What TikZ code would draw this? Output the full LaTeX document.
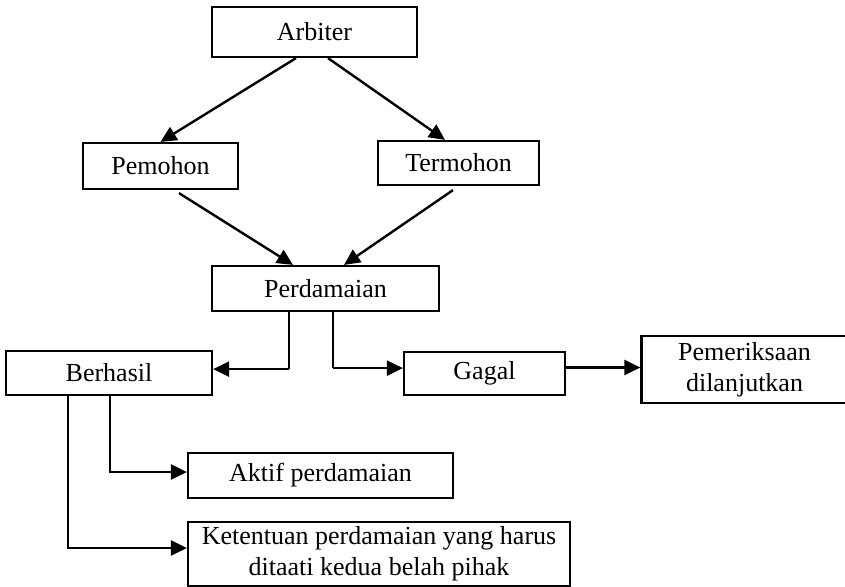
\documentclass[tikz,border=0pt]{standalone}
\usepackage{fontspec}
\setmainfont{Liberation Serif}
\usetikzlibrary{arrows.meta,calc}

\tikzset{
    box/.style={draw, line width=1.1pt, inner sep=0pt, align=center, font=\fontsize{13}{15.5}\selectfont},
    arr/.style={line width=1.2pt, -{Triangle[length=8pt,width=7.5pt]}},
    link/.style={line width=1.2pt}
}

\begin{document}
\begin{tikzpicture}[x=0.5pt,y=-0.5pt]

            \useasboundingbox (0,0) rectangle (845,586);

            \node[box, minimum width=102.5pt, minimum height=25pt] (arbiter) at (314.5,32) {Arbiter};
            \node[box, minimum width=77.5pt, minimum height=23pt] (pemohon) at (160.5,166) {Pemohon};
            \node[box, minimum width=80.5pt, minimum height=22pt] (termohon) at (458.5,163) {Termohon};
            \node[box, minimum width=113.5pt, minimum height=22.5pt] (perdamaian) at (325.5,288.5) {Perdamaian};
            \node[box, minimum width=103pt, minimum height=22pt] (berhasil) at (109,373) {Berhasil};
            \node[box, minimum width=80.5pt, minimum height=21.5pt] (gagal) at (484.5,373.5) {Gagal};
            \node[box, minimum width=103pt, minimum height=33.5pt] (pemeriksaan) at (744.5,369.5) {Pemeriksaan\\dilanjutkan};
            \node[box, minimum width=132.5pt, minimum height=22.5pt] (aktif) at (320.5,475.5) {Aktif perdamaian};
            \node[box, minimum width=191pt, minimum height=32pt] (ketentuan) at (379,554) {Ketentuan perdamaian yang harus\\ditaati kedua belah pihak};

            \draw[arr] ($(arbiter.south)+(-18.5,0)$) -- (pemohon.north);
            \draw[arr] ($(arbiter.south)+(13.5,0)$) -- ($(termohon.north)+(-13.5,0)$);
            \draw[arr] ($(pemohon.south)+(18.5,3)$) -- ($(perdamaian.north)+(-32.5,0)$);
            \draw[arr] ($(termohon.south)+(-5.5,4)$) -- ($(perdamaian.north)+(18.5,0)$);

            \coordinate (p1) at ($(perdamaian.south)+(-36.5,0)$);
            \coordinate (p2) at ($(perdamaian.south)+(7.5,0)$);
            \draw[link] (p1) -- ($(p1)+(0,57)$) coordinate (p1b);
            \draw[arr] (p1b) -- (p1b -| berhasil.east);
            \draw[link] (p2) -- ($(p2)+(0,56)$) coordinate (p2b);
            \draw[arr] (p2b) -- (p2b -| gagal.west);

            \coordinate (g1) at ($(gagal.east)+(0,-6)$);
            \draw[arr] (g1) -- (g1 -| pemeriksaan.west);

            \draw[arr] ($(berhasil.south)+(1,0)$) |- ($(aktif.west)+(0,-3.5)$);
            \draw[arr] ($(berhasil.south)+(-41,0)$) |- ($(ketentuan.west)+(0,-6)$);

        \end{tikzpicture}
\end{document}
